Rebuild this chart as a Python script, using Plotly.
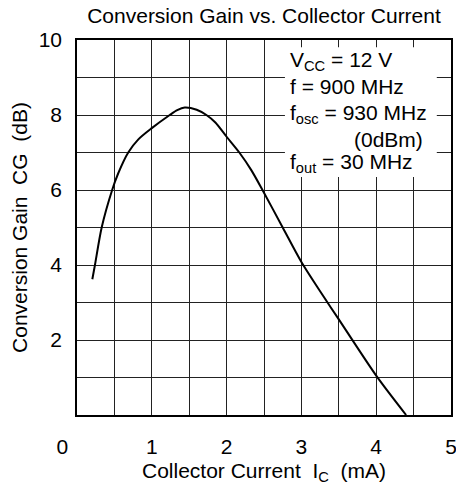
import plotly.graph_objects as go

# Data
collector_current_ma = [0.205, 0.24, 0.33, 0.47, 0.55, 0.685, 0.82, 1.0, 1.24, 1.34,
                        1.44, 1.6, 1.73, 1.85, 2.0, 2.17, 2.33, 2.48, 2.75, 3.0,
                        3.25, 3.5, 4.0, 4.4]
conversion_gain_db = [3.62, 4.0, 5.0, 6.0, 6.44, 7.0, 7.35, 7.65, 8.0, 8.13,
                      8.2, 8.14, 8.0, 7.8, 7.42, 7.0, 6.53, 6.0, 5.0, 4.08,
                      3.3, 2.55, 1.05, 0.0]

x_tick_vals = [0, 1, 2, 3, 4, 5]
x_tick_text = ["0", "1", "2", "3", "4", "5"]
y_tick_vals = [2, 4, 6, 8, 10]
y_tick_text = ["2", "4", "6", "8", "10"]

cond_lines = ["V<sub>CC</sub> = 12 V", "f = 900 MHz", "f<sub>osc</sub> = 930 MHz",
              "(0dBm)", "f<sub>out</sub> = 30 MHz"]

FONT = "Liberation Sans, Arial, Helvetica, sans-serif"
FS = 21

# The page body has an 8px margin, so the figure is 8px smaller and margins shifted.
W, H = 456, 480

fig = go.Figure()
fig.add_trace(go.Scatter(
    x=collector_current_ma, y=conversion_gain_db, mode="lines",
    line=dict(color="black", width=2, shape="spline", smoothing=0.8),
    showlegend=False, hoverinfo="skip"))

# Shift "0" label left with non-breaking spaces
x_text = [x_tick_text[0] + "\u00a0" * 5] + x_tick_text[1:]

fig.update_layout(
    template="none",
    width=W, height=H,
    margin=dict(l=69, r=13, t=32, b=73, pad=0),
    paper_bgcolor="white", plot_bgcolor="white",
    font=dict(family=FONT, size=FS, color="black"),
    title=dict(text="Conversion Gain vs. Collector Current", x=0.5,
               xref="paper", xanchor="center", y=1 - 8 / H, yanchor="middle",
               font=dict(family=FONT, size=FS, color="black")),
    xaxis=dict(range=[0, 5], tickvals=x_tick_vals, ticktext=x_text, automargin=False,
               showgrid=True, gridcolor="#222", gridwidth=1,
               minor=dict(dtick=0.5, showgrid=True, gridcolor="#222", gridwidth=1),
               showline=True, linecolor="black", linewidth=1.5, mirror=True,
               ticks="", ticklabelstandoff=12, zeroline=False,
               title=dict(text="Collector Current  I<sub>C</sub>  (mA)", standoff=6,
                          font=dict(family=FONT, size=FS))),
    yaxis=dict(range=[0, 10], tickvals=y_tick_vals, ticktext=y_tick_text, automargin=False,
               showgrid=True, gridcolor="#222", gridwidth=1,
               minor=dict(dtick=1, showgrid=True, gridcolor="#222", gridwidth=1),
               showline=True, linecolor="black", linewidth=1.5, mirror=True,
               ticks="", ticklabelstandoff=9, zeroline=False,
               title=dict(text="Conversion Gain  CG  (dB)", standoff=12,
                          font=dict(family=FONT, size=FS))),
)

# White box masking grid behind the condition text
fig.add_shape(type="rect", xref="x", yref="y", x0=2.78, x1=4.81, y0=6.35, y1=9.81,
              fillcolor="white", line=dict(width=0), layer="between")

cond_y = [9.45, 8.75, 8.02, 7.36, 6.73]
for t, yy in zip(cond_lines, cond_y):
    if t.startswith("("):
        fig.add_annotation(x=4.65, y=yy, xref="x", yref="y", text=t, showarrow=False,
                           xanchor="right", yanchor="middle", font=dict(family=FONT, size=FS))
    else:
        fig.add_annotation(x=2.82, y=yy, xref="x", yref="y", text=t, showarrow=False,
                           xanchor="left", yanchor="middle", font=dict(family=FONT, size=FS))

fig.write_html("out.html")
